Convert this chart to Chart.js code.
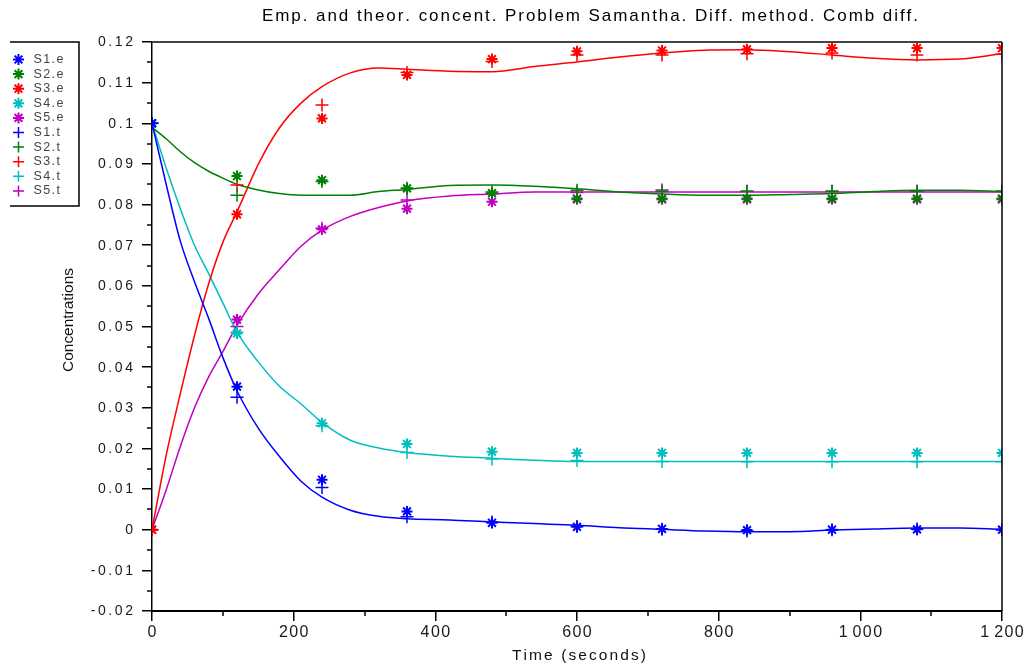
<!DOCTYPE html>
<html>
<head>
<meta charset="utf-8">
<script src="https://cdn.jsdelivr.net/npm/chart.js"></script>
<style>
  html, body { margin: 0; padding: 0; background: #fff; }
  canvas { display: block; }
</style>
</head>
<body>
<canvas id="chart" width="1029" height="666"></canvas>
<script>
// sampled (empirical + theoretical) times
const sampleTimes = [0, 120, 240, 360, 480, 600, 720, 840, 960, 1080, 1200];

// empirical concentrations (star markers)
const S1e = [0.1, 0.0352, 0.0123, 0.0045, 0.0017, 0.0007, 0.0002, -0.0001, 0.0, 0.0001, 0.0];
const S2e = [0.1, 0.087, 0.086, 0.084, 0.0828, 0.0815, 0.0815, 0.0815, 0.0815, 0.0815, 0.0815];
const S3e = [0.0, 0.0776, 0.1012, 0.1119, 0.1158, 0.1177, 0.1179, 0.1182, 0.1185, 0.1185, 0.1185];
const S4e = [0.1, 0.0483, 0.0262, 0.0211, 0.0192, 0.0189, 0.0189, 0.0189, 0.0189, 0.0189, 0.0189];
const S5e = [0.0, 0.0517, 0.0739, 0.079, 0.0807, 0.0813, 0.0813, 0.0813, 0.0813, 0.0813, 0.0813];

// theoretical concentrations at sample times (plus markers)
const S1t = [0.1, 0.0326, 0.0104, 0.0032, 0.0019, 0.0008, 0.0001, -0.0003, 0.0, 0.0002, 0.0];
const S2t = [0.1, 0.0823, 0.0857, 0.084, 0.0831, 0.0835, 0.0833, 0.0833, 0.0833, 0.0833, 0.0833];
const S3t = [0.0, 0.0848, 0.1045, 0.1125, 0.1152, 0.1168, 0.1168, 0.1171, 0.1173, 0.1168, 0.117];
const S4t = [0.1, 0.0486, 0.0256, 0.019, 0.0174, 0.017, 0.0168, 0.0167, 0.0167, 0.0167, 0.0167];
const S5t = [0.0, 0.05, 0.0742, 0.0811, 0.0827, 0.083, 0.0836, 0.0833, 0.0833, 0.0833, 0.0833];

// theoretical curves
const curveTimes = [0, 20, 40, 60, 80, 100, 120, 150, 180, 210, 240, 280, 320, 360, 420, 480,
                    540, 600, 660, 720, 780, 840, 900, 960, 1020, 1080, 1140, 1200];
const S1c = [0.1, 0.085, 0.071, 0.061, 0.052, 0.0424, 0.0342, 0.025, 0.018, 0.012, 0.008, 0.0048, 0.0033, 0.0027,
             0.0024, 0.0019, 0.0015, 0.0011, 0.0005, 0.0001, -0.0003, -0.0005, -0.0005, -0.0001, 0.0002, 0.0004, 0.0004, 0.0001];
const S2c = [0.099, 0.0962, 0.093, 0.0903, 0.0882, 0.0865, 0.085, 0.0836, 0.0827, 0.0823, 0.0823, 0.0823, 0.0832, 0.0837,
             0.0847, 0.0848, 0.0845, 0.0839, 0.0831, 0.0826, 0.0823, 0.0823, 0.0825, 0.0827, 0.0832, 0.0835, 0.0835, 0.0832];
const S3c = [0.0, 0.0183, 0.0335, 0.0478, 0.0605, 0.0707, 0.0782, 0.0899, 0.0989, 0.1049, 0.109, 0.1124, 0.1136, 0.1133,
             0.1128, 0.1127, 0.114, 0.1151, 0.1163, 0.1173, 0.118, 0.1181, 0.1176, 0.1168, 0.116, 0.1156, 0.1158, 0.1171];
const S4c = [0.1, 0.089, 0.079, 0.070, 0.063, 0.0558, 0.0486, 0.0413, 0.0353, 0.031, 0.0264, 0.022, 0.0201, 0.019,
             0.0181, 0.0176, 0.0171, 0.0168, 0.0168, 0.0168, 0.0168, 0.0168, 0.0168, 0.0168, 0.0168, 0.0168, 0.0168, 0.0168];
const S5c = [0.0, 0.0098, 0.0205, 0.030, 0.0376, 0.0438, 0.0503, 0.058, 0.064, 0.0697, 0.0737, 0.0771, 0.0793, 0.0809,
             0.0821, 0.0826, 0.0831, 0.0831, 0.0831, 0.0831, 0.0831, 0.0831, 0.0831, 0.0831, 0.0831, 0.0831, 0.0831, 0.0831];

const seriesNames = ['S1', 'S2', 'S3', 'S4', 'S5'];
const seriesColors = ['#0000ff', '#008000', '#ff0000', '#00bfbf', '#bf00bf'];
const empirical = [S1e, S2e, S3e, S4e, S5e];
const theoretical = [S1t, S2t, S3t, S4t, S5t];
const curves = [S1c, S2c, S3c, S4c, S5c];

// axes
const xTicks = [0, 200, 400, 600, 800, 1000, 1200];
const xTickLabels = ['0', '200', '400', '600', '800', '1 000', '1 200'];
const xMinor = [100, 300, 500, 700, 900, 1100];
const yTicks = [-0.02, -0.01, 0, 0.01, 0.02, 0.03, 0.04, 0.05, 0.06, 0.07, 0.08, 0.09, 0.1, 0.11, 0.12];
const yTickLabels = ['-0.02', '-0.01', '0', '0.01', '0.02', '0.03', '0.04', '0.05', '0.06', '0.07', '0.08', '0.09', '0.1', '0.11', '0.12'];
const yMinor = [-0.015, -0.005, 0.005, 0.015, 0.025, 0.035, 0.045, 0.055, 0.065, 0.075, 0.085, 0.095, 0.105, 0.115];

const titleText = 'Emp. and theor. concent. Problem Samantha. Diff. method. Comb diff.';
const xTitle = 'Time (seconds)';
const yTitle = 'Concentrations';

const toPts = (xs, ys) => xs.map((x, i) => ({ x, y: ys[i] }));

const datasets = [];
empirical.forEach((arr, i) => datasets.push({
  label: seriesNames[i] + '.e', data: toPts(sampleTimes, arr), showLine: false,
  pointStyle: 'star', pointRadius: 5.5, pointBorderWidth: 2,
  borderColor: seriesColors[i], backgroundColor: seriesColors[i], clip: 0, order: 0
}));
theoretical.forEach((arr, i) => datasets.push({
  label: seriesNames[i] + '.t', data: toPts(sampleTimes, arr), showLine: false,
  pointStyle: 'cross', pointRadius: 6.5, pointBorderWidth: 1.5,
  borderColor: seriesColors[i], backgroundColor: seriesColors[i], clip: 0, order: 0
}));
curves.forEach((arr, i) => datasets.push({
  label: '', data: toPts(curveTimes, arr), showLine: true, pointRadius: 0,
  borderColor: seriesColors[i], borderWidth: 1.5, cubicInterpolationMode: 'monotone',
  clip: 0, order: 1
}));

const FONT = '"Liberation Sans", Arial, sans-serif';

// draws text char by char with extra spacing (the reference text is widely spaced)
function spacedText(ctx, text, x, y, spacing, align) {
  const chars = Array.from(text);
  const w = chars.map(c => c === ' ' ? 5 : ctx.measureText(c).width);
  let total = 0;
  chars.forEach((c, i) => {
    total += w[i];
    if (i < chars.length - 1 && c !== ' ' && chars[i + 1] !== ' ') total += spacing;
  });
  let cx = align === 'right' ? x - total : align === 'center' ? x - total / 2 : x;
  ctx.textAlign = 'left';
  chars.forEach((c, i) => {
    if (c !== ' ') ctx.fillText(c, cx, y);
    cx += w[i];
    if (i < chars.length - 1 && c !== ' ' && chars[i + 1] !== ' ') cx += spacing;
  });
}

function fitText(ctx, text, cx, y, width) {
  const chars = Array.from(text);
  const natural = chars.reduce((a, c) => a + ctx.measureText(c).width, 0);
  const spacing = (width - natural) / (chars.length - 1);
  let x = cx - width / 2;
  ctx.textAlign = 'left';
  chars.forEach(c => { ctx.fillText(c, x, y); x += ctx.measureText(c).width + spacing; });
}

function marker(ctx, style, x, y, r) {
  ctx.beginPath();
  ctx.moveTo(x - r, y); ctx.lineTo(x + r, y);
  ctx.moveTo(x, y - r); ctx.lineTo(x, y + r);
  if (style === 'star') {
    const d = r * Math.SQRT1_2;
    ctx.moveTo(x - d, y - d); ctx.lineTo(x + d, y + d);
    ctx.moveTo(x - d, y + d); ctx.lineTo(x + d, y - d);
  }
  ctx.stroke();
}

const decor = {
  id: 'decor',
  afterDraw(chart) {
    const ctx = chart.ctx;
    const a = chart.chartArea;
    const xs = chart.scales.x, ys = chart.scales.y;
    ctx.save();

    // box: top and right
    ctx.strokeStyle = '#444'; ctx.lineWidth = 2;
    ctx.beginPath(); ctx.moveTo(a.left, a.top); ctx.lineTo(a.right, a.top); ctx.stroke();
    ctx.strokeStyle = '#000'; ctx.lineWidth = 1.5;
    ctx.beginPath(); ctx.moveTo(a.right, a.top); ctx.lineTo(a.right, a.bottom); ctx.stroke();

    // minor ticks
    ctx.strokeStyle = '#000'; ctx.lineWidth = 1.5;
    ctx.beginPath();
    yMinor.forEach(v => { const p = Math.round(ys.getPixelForValue(v)); ctx.moveTo(a.left - 5, p); ctx.lineTo(a.left, p); });
    xMinor.forEach(v => { const p = Math.round(xs.getPixelForValue(v)); ctx.moveTo(p, a.bottom); ctx.lineTo(p, a.bottom + 5); });
    ctx.stroke();

    // tick labels
    ctx.fillStyle = '#1a1a1a';
    ctx.textBaseline = 'middle';
    ctx.font = '14px ' + FONT;
    yTicks.forEach((v, i) => spacedText(ctx, yTickLabels[i], a.left - 19, ys.getPixelForValue(v) + 0.5, 2.6, 'right'));
    ctx.font = '16px ' + FONT;
    xTicks.forEach((v, i) => spacedText(ctx, xTickLabels[i], xs.getPixelForValue(v), 633, 1.4, 'center'));

    // axis titles
    ctx.fillStyle = '#111';
    ctx.font = '15.5px ' + FONT;
    fitText(ctx, xTitle, 579, 656, 134);
    ctx.save();
    ctx.translate(69, 320);
    ctx.rotate(-Math.PI / 2);
    fitText(ctx, yTitle, 0, 0, 104);
    ctx.restore();

    // title
    ctx.fillStyle = '#000';
    ctx.font = '17px ' + FONT;
    fitText(ctx, titleText, 590, 16, 656);

    // legend
    ctx.strokeStyle = '#000'; ctx.lineWidth = 1.5;
    ctx.beginPath();
    ctx.moveTo(10, 42); ctx.lineTo(79, 42); ctx.lineTo(79, 206); ctx.lineTo(10, 206);
    ctx.stroke();
    ctx.font = '12.5px ' + FONT;
    ctx.fillStyle = '#444';
    chart.data.datasets.slice(0, 10).forEach((ds, i) => {
      const y = 59.5 + i * 14.6;
      ctx.strokeStyle = ds.borderColor;
      ctx.lineWidth = ds.pointStyle === 'star' ? 2 : 1.5;
      marker(ctx, ds.pointStyle, 18.5, y, 5.5);
      spacedText(ctx, ds.label, 33.5, y, 1.4, 'left');
    });
    ctx.restore();
  }
};

new Chart(document.getElementById('chart'), {
  type: 'scatter',
  data: { datasets },
  options: {
    responsive: false,
    animation: false,
    devicePixelRatio: 1,
    layout: { padding: { top: 42, right: 27, left: 0, bottom: 0 } },
    plugins: { legend: { display: false }, title: { display: false }, tooltip: { enabled: false } },
    scales: {
      x: {
        type: 'linear', position: 'bottom', min: 0, max: 1200,
        afterBuildTicks: s => { s.ticks = xTicks.map(v => ({ value: v })); },
        afterFit: s => { s.height = 55; },
        ticks: { display: false },
        grid: { drawOnChartArea: false, drawTicks: true, tickLength: 10, color: '#000', lineWidth: 1.5 },
        border: { color: '#000', width: 2 }
      },
      y: {
        type: 'linear', position: 'left', min: -0.02, max: 0.12,
        afterBuildTicks: s => { s.ticks = yTicks.map(v => ({ value: v })); },
        afterFit: s => { s.width = 152; },
        ticks: { display: false },
        grid: { drawOnChartArea: false, drawTicks: true, tickLength: 10, color: '#000', lineWidth: 1.5 },
        border: { color: '#000', width: 1.5 }
      }
    }
  },
  plugins: [decor]
});
</script>
</body>
</html>
